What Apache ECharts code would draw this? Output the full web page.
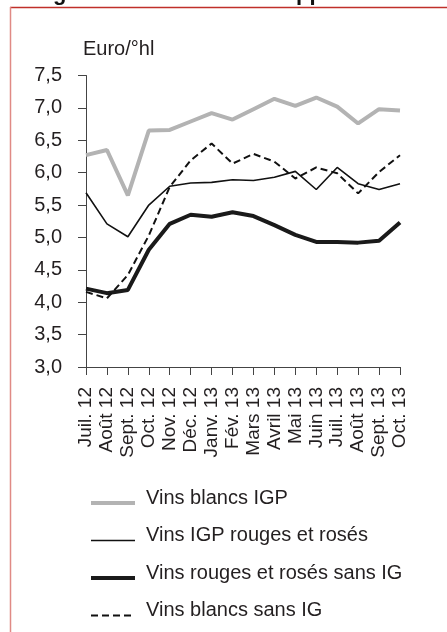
<!DOCTYPE html>
<html>
<head>
<meta charset="utf-8">
<script src="https://cdn.jsdelivr.net/npm/echarts@6/dist/echarts.min.js"></script>
<style>
html,body{margin:0;padding:0;background:#fff;}
#c{width:447px;height:632px;}
</style>
</head>
<body>
<div id="c"></div>
<script>
const months = ['Juil. 12','Août 12','Sept. 12','Oct. 12','Nov. 12','Déc. 12','Janv. 13','Fév. 13','Mars 13','Avril 13','Mai 13','Juin 13','Juil. 13','Août 13','Sept. 13','Oct. 13'];
const blancsIGP = [6.27,6.35,5.65,6.65,6.66,6.79,6.92,6.82,6.98,7.14,7.03,7.16,7.02,6.76,6.98,6.96];
const igpRougesRoses = [5.69,5.21,5.01,5.50,5.79,5.84,5.85,5.89,5.88,5.93,6.02,5.74,6.08,5.83,5.74,5.83];
const rougesRosesSansIG = [4.21,4.14,4.19,4.81,5.21,5.35,5.32,5.39,5.33,5.19,5.04,4.93,4.93,4.92,4.95,5.23];
const blancsSansIG = [4.16,4.06,4.42,5.03,5.78,6.19,6.45,6.14,6.29,6.17,5.91,6.08,5.99,5.68,6.01,6.27];
const seriesNames = ['Vins blancs IGP','Vins IGP rouges et rosés','Vins rouges et rosés sans IG','Vins blancs sans IG'];
const yTicks = {min:3, max:7.5, step:0.5};
const unitLabel = 'Euro/°hl';

const FONT = '"Liberation Sans", Arial, sans-serif';
const TXT = '#231f20';
const styles = [
  {color:'#b3b3b3', width:4, type:'solid'},
  {color:'#111', width:1.6, type:'solid'},
  {color:'#1a1a1a', width:4, type:'solid'},
  {color:'#111', width:2, type:[7,4]}
];
const values = [blancsIGP, igpRougesRoses, rougesRosesSansIG, blancsSansIG];
const chart = echarts.init(document.getElementById('c'), null, {renderer:'canvas'});
chart.setOption({
  animation:false,
  backgroundColor:'#fff',
  textStyle:{fontFamily:FONT},
  graphic:[
    {type:'line', shape:{x1:10,y1:7.5,x2:447,y2:7.5}, style:{stroke:'#c0302a', lineWidth:1.3}, z:10},
    {type:'line', shape:{x1:10.5,y1:7,x2:10.5,y2:632}, style:{stroke:'#e08a85', lineWidth:1.5}, z:10},
    {type:'text', x:53, y:-17, style:{text:'g', font:'bold 22px '+FONT, fill:'#111'}},
    {type:'text', x:296, y:-17, style:{text:'pp', font:'bold 22px '+FONT, fill:'#111'}}
  ],
  grid:{left:86, right:47, top:75.5, bottom:265, containLabel:false},
  xAxis:{
    type:'category', data:months, boundaryGap:false,
    axisLine:{lineStyle:{color:'#444', width:1}},
    axisTick:{show:true, length:8, alignWithLabel:true, lineStyle:{color:'#444'}},
    axisLabel:{rotate:90, fontSize:19, color:TXT, margin:20, interval:0, fontFamily:FONT}
  },
  yAxis:{
    type:'value', min:yTicks.min, max:yTicks.max, interval:yTicks.step,
    name:unitLabel, nameLocation:'end', nameGap:16,
    nameTextStyle:{fontSize:20, color:TXT, align:'left', padding:[0,0,0,-3], fontFamily:FONT},
    splitLine:{show:false},
    axisLine:{show:true, lineStyle:{color:'#444', width:1}},
    axisTick:{show:true, length:8, lineStyle:{color:'#444'}},
    axisLabel:{fontSize:20, color:TXT, margin:24, fontFamily:FONT,
      formatter:v=>v.toFixed(1).replace('.',',')}
  },
  legend:{
    orient:'vertical', left:84, top:483,
    itemWidth:44, itemHeight:20, itemGap:14.5,
    itemStyle:{opacity:0, borderWidth:0},
    formatter:'{a|{name}}',
    textStyle:{fontSize:20, color:TXT, fontFamily:FONT,
      rich:{a:{fontSize:20, color:TXT, fontFamily:FONT, lineHeight:30, verticalAlign:'top', padding:[0,0,0,6]}}},
    data:seriesNames.map((n,i)=>({name:n, lineStyle:{width:styles[i].width, color:styles[i].color, type:styles[i].type}}))
  },
  series:seriesNames.map((n,i)=>({
    name:n, type:'line', data:values[i], symbol:'none',
    lineStyle:{color:styles[i].color, width:styles[i].width, type:styles[i].type},
    itemStyle:{color:styles[i].color}
  }))
});
</script>
</body>
</html>
